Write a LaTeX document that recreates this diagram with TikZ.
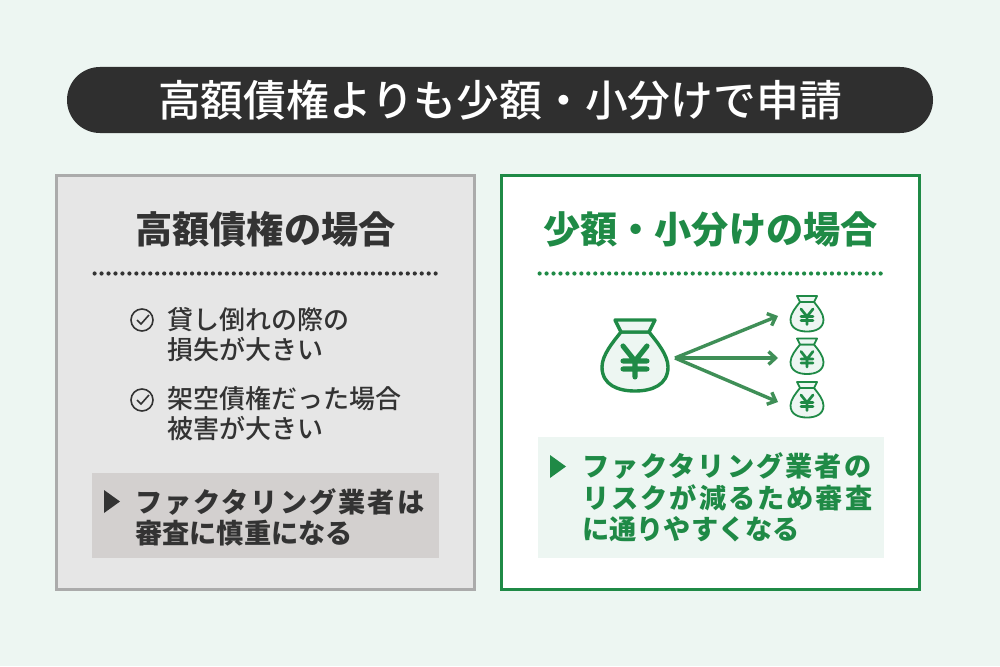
\documentclass[tikz,border=0pt]{standalone}
\usepackage{fontspec}
\newfontfamily\jpfont{Noto Sans CJK JP}
\newfontfamily\jpmedium{Noto Sans CJK JP Medium}
\newfontfamily\jpwide[LetterSpace=7.4]{Noto Sans CJK JP}
\usetikzlibrary{arrows.meta}

\definecolor{bgmint}{HTML}{EDF6F2}
\definecolor{darktext}{HTML}{333333}
\definecolor{titlebar}{HTML}{2F2F2F}
\definecolor{leftfill}{HTML}{E6E6E6}
\definecolor{leftline}{HTML}{ABABAB}
\definecolor{leftnote}{HTML}{D3D0CF}
\definecolor{bankgreen}{HTML}{1F8A46}
\definecolor{arrowgreen}{HTML}{3F8F57}

\newcommand{\wideline}[1]{{\jpwide\bfseries #1}}

\tikzset{
	heading/.style={font=\jpfont\fontsize{37.2}{44}\selectfont\bfseries, anchor=center, inner sep=0pt},
	listtext/.style={font=\jpmedium\fontsize{26}{30.5}\selectfont, text=darktext, anchor=west, align=left, inner sep=0pt},
	notetext/.style={font=\jpfont\fontsize{27.2}{31.5}\selectfont\bfseries, anchor=west, align=left, inner sep=0pt},
	dotrow/.style={line width=4.2pt, line cap=round, dash pattern=on 0pt off 6.96pt},
	spread/.style={-{Straight Barb[length=7pt,width=13pt]}, line width=3.4pt, arrowgreen},
	pics/moneybag/.style={code={
		\draw [bankgreen, fill=bgmint, line width=#1, line join=round]
			(-14, -23) .. controls (-22, -13) and (-33, 0) .. (-33, 12)
			.. controls (-33, 30) and (-17, 36) .. (0, 36)
			.. controls (17, 36) and (33, 30) .. (33, 12)
			.. controls (33, 0) and (22, -13) .. (14, -23) -- cycle;
		\draw [bankgreen, fill=bgmint, line width=#1, line join=round]
			(-20, -35) -- (20, -35) -- (14, -23) -- (-14, -23) -- cycle;
		\draw [bankgreen, line width=#1*1.5, line cap=round, line join=round]
			(-12, -9) -- (0, 6) -- (12, -9) (0, 6) -- (0, 22)
			(-12, 6) -- (12, 6) (-12, 14) -- (12, 14);
	}},
	pics/checkmark/.style={code={
		\draw [darktext, line width=1.6pt] (0, 0) circle (11);
		\draw [darktext, line width=1.6pt] (-5, 0) -- (-1, 4) -- (7, -5);
	}},
}

\begin{document}
\begin{tikzpicture}[x=1pt, y=-1pt]
	\useasboundingbox (0, 0) rectangle (1000, 666);
	\fill [bgmint] (0, 0) rectangle (1000, 666);

	\fill [titlebar, rounded corners=33pt] (67, 67) rectangle (933, 133);
	\node (title) [font=\jpmedium\fontsize{42.8}{50}\selectfont, text=white] at (500, 100) {高額債権よりも少額・小分けで申請};

	\draw [leftline, fill=leftfill, line width=3pt] (56.5, 175) rectangle (474.6, 589.6);
	\draw [bankgreen, fill=white, line width=3pt] (501.5, 175) rectangle (919.6, 589.8);

	\node (lefthead) [heading, text=darktext] at (265.5, 229) {高額債権の場合};
	\node (righthead) [heading, text=bankgreen] at (710.5, 229) {少額・小分けの場合};

	\draw [dotrow, darktext] (94.6, 273.5) -- (436, 273.5);
	\draw [dotrow, bankgreen] (539.6, 273.5) -- (881, 273.5);

	\pic at (142, 320) {checkmark};
	\pic at (142, 400) {checkmark};
	\node (loss) [listtext] at (167, 334.5) {貸し倒れの際の\\損失が大きい};
	\node (fraud) [listtext] at (167, 413.5) {架空債権だった場合\\被害が大きい};

	\fill [leftnote] (92, 473) rectangle (439, 558);
	\fill [darktext] (104, 490) -- (120, 501.5) -- (104, 513) -- cycle;
	\node (leftnote) [notetext, text=darktext] at (135, 517.5) {\wideline{ファクタリング業者は}\\審査に慎重になる};

	\pic [scale=1] at (635, 355) {moneybag=3.4pt};
	\foreach \y in {313.5, 356, 399.5}
		\pic [scale=0.5] at (807, \y) {moneybag=1.8pt};

	\coordinate (bigbag) at (675, 358);
	\coordinate (smallone) at (778, 316);
	\coordinate (smalltwo) at (778, 358);
	\coordinate (smallthree) at (778, 402);
	\draw [spread] (bigbag) -- (smallone);
	\draw [spread] (bigbag) -- (smalltwo);
	\draw [spread] (bigbag) -- (smallthree);

	\fill [bgmint] (538, 437) rectangle (884, 558);
	\fill [bankgreen] (550, 455) -- (566, 466.5) -- (550, 478) -- cycle;
	\node (rightnote) [notetext, text=bankgreen] at (582, 497.5) {\wideline{ファクタリング業者の}\\\wideline{リスクが減るため審査}\\に通りやすくなる};
\end{tikzpicture}
\end{document}
